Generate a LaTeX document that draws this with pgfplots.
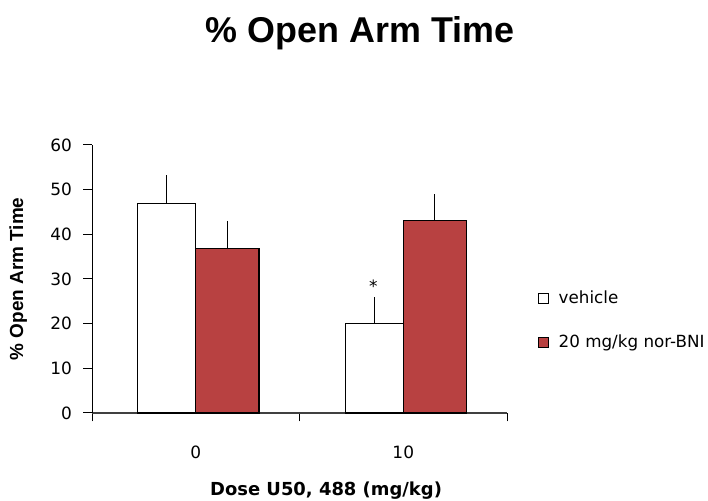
\documentclass[border=0pt]{standalone}
\usepackage{pgfplots}
\pgfplotsset{compat=1.18}
\usepackage{fontspec}
\setmainfont{DejaVu Sans}
\newfontfamily\arialfont{Liberation Sans}
\definecolor{barred}{RGB}{184,65,65}
\begin{document}
\begin{tikzpicture}[x=1bp,y=1bp]
\path[use as bounding box] (0,0) rectangle (708,501);
\node[anchor=base,font=\arialfont\bfseries\fontsize{36}{42}\selectfont] at (360,458) {\% Open Arm Time};
\begin{axis}[
  at={(92bp,88bp)}, anchor=south west,
  scale only axis, width=415bp, height=268bp,
  xmin=-0.5, xmax=1.5, ymin=0, ymax=60,
  clip=false,
  ybar,
  axis x line=bottom, axis y line=left,
  x axis line style={-, draw=black!75, line width=1.1bp},
  y axis line style={-, draw=black, line width=1bp},
  tick align=outside,
  major tick length=8.5bp,
  every tick/.style={black, line width=1bp},
  xtick={-0.5,0.5,1.5}, xticklabels={,,},
  extra x ticks={0,1}, extra x tick labels={0,10},
  extra x tick style={major tick length=0pt, tick label style={anchor=center, yshift=-39bp}},
  ytick={0,10,20,30,40,50,60},
  /pgf/number format/assume math mode=true,
  tick label style={font=\fontsize{17}{20}\selectfont},
  yticklabel style={xshift=-8bp},
  ylabel={\% Open Arm Time},
  xlabel={Dose U50, 488 (mg/kg)},
  every axis y label/.style={at={(axis description cs:-0.178,0.5)}, rotate=90, anchor=center, font=\arialfont\bfseries\fontsize{19}{22}\selectfont},
  every axis x label/.style={at={(axis description cs:0.564,-0.291)}, anchor=center, font=\bfseries\fontsize{18}{22}\selectfont},
  legend style={at={(axis description cs:1.068,0.347)}, anchor=west, draw=none, fill=none,
    row sep=26bp, font=\fontsize{16.8}{20}\selectfont, cells={anchor=west},
    /tikz/every odd column/.append style={column sep=7.5bp}},
  legend cell align=left,
  error bars/y dir=plus, error bars/y explicit,
  error bars/error mark=none,
  error bars/error bar style={black, line width=1bp},
]
\addplot[ybar, mark=none, bar width=0.28, bar shift=0, fill=white, draw=black, line width=1.1bp,
  legend image code/.code={\draw[fill=white, draw=black, line width=0.8bp] (0bp,-5bp) rectangle (10bp,5bp);}]
  coordinates {(-0.14,47) +- (0,6.2) (0.86,20) +- (0,5.9)};
\addlegendentry{vehicle}
\addplot[ybar, mark=none, bar width=0.305, bar shift=0, fill=barred, draw=black, line width=1.1bp,
  legend image code/.code={\draw[fill=barred, draw=black, line width=0.8bp] (0bp,-5bp) rectangle (10bp,5bp);}]
  coordinates {(0.1525,36.8) +- (0,6.2) (1.1525,43) +- (0,6)};
\addlegendentry{20 mg/kg nor-BNI}
\node[font=\fontsize{17}{20}\selectfont] at (axis cs:0.856,28.3) {*};
\end{axis}
\end{tikzpicture}
\end{document}
